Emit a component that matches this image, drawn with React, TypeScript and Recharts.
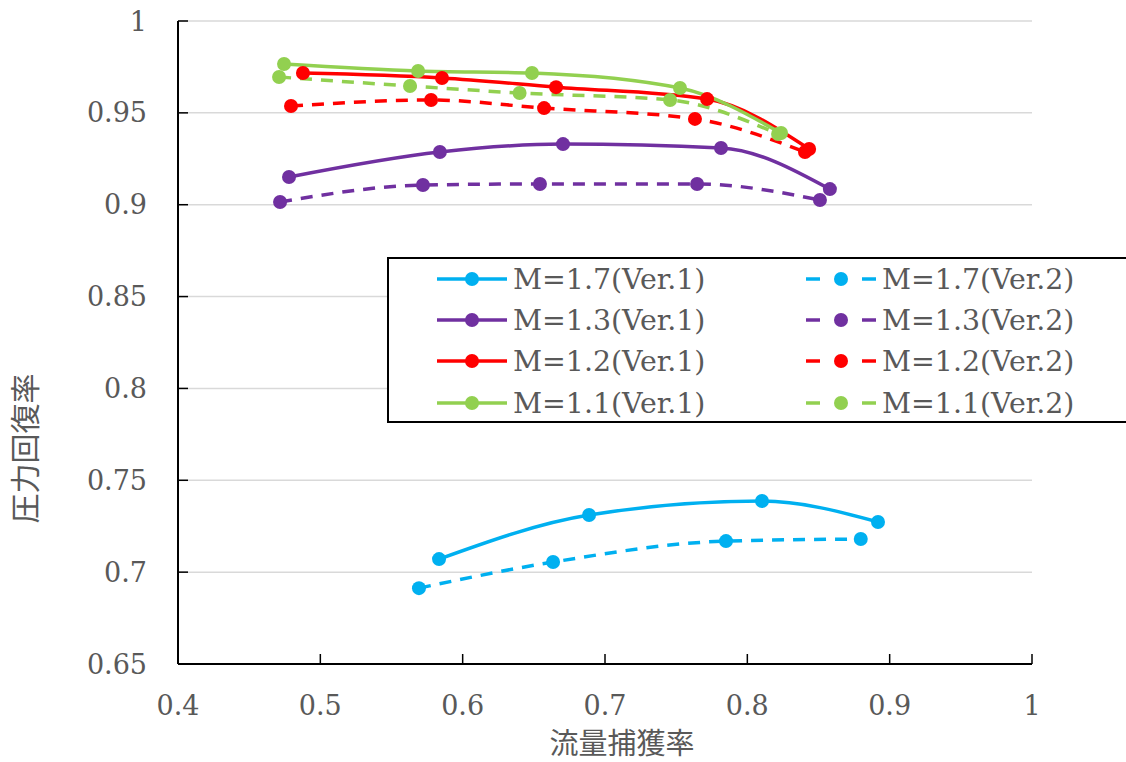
import React from 'react';
import { LineChart, Line, XAxis, YAxis, CartesianGrid, Legend, Label } from 'recharts';

const xTicks = [0.4, 0.5, 0.6, 0.7, 0.8, 0.9, 1];
const yTicks = [0.65, 0.7, 0.75, 0.8, 0.85, 0.9, 0.95, 1];

const m17v1 = [
  { x: 0.5834, y: 0.7071 },
  { x: 0.6888, y: 0.7311 },
  { x: 0.8103, y: 0.7387 },
  { x: 0.8918, y: 0.7273 },
];
const m17v2 = [
  { x: 0.5693, y: 0.6913 },
  { x: 0.6635, y: 0.7055 },
  { x: 0.785, y: 0.7169 },
  { x: 0.8797, y: 0.718 },
];
const m13v1 = [
  { x: 0.478, y: 0.9151 },
  { x: 0.584, y: 0.9287 },
  { x: 0.6705, y: 0.933 },
  { x: 0.7815, y: 0.9309 },
  { x: 0.858, y: 0.9085 },
];
const m13v2 = [
  { x: 0.4717, y: 0.9015 },
  { x: 0.5721, y: 0.9107 },
  { x: 0.6543, y: 0.9113 },
  { x: 0.7647, y: 0.9113 },
  { x: 0.851, y: 0.9026 },
];
const m12v1 = [
  { x: 0.4878, y: 0.9717 },
  { x: 0.5855, y: 0.969 },
  { x: 0.6656, y: 0.964 },
  { x: 0.7717, y: 0.9575 },
  { x: 0.8434, y: 0.9303 },
];
const m12v2 = [
  { x: 0.4794, y: 0.9537 },
  { x: 0.5778, y: 0.957 },
  { x: 0.6572, y: 0.9526 },
  { x: 0.7632, y: 0.9467 },
  { x: 0.8405, y: 0.9287 },
];
const m11v1 = [
  { x: 0.4745, y: 0.9766 },
  { x: 0.5687, y: 0.9728 },
  { x: 0.6487, y: 0.9717 },
  { x: 0.7527, y: 0.9635 },
  { x: 0.8237, y: 0.939 },
];
const m11v2 = [
  { x: 0.471, y: 0.9695 },
  { x: 0.563, y: 0.9646 },
  { x: 0.64, y: 0.9608 },
  { x: 0.7457, y: 0.957 },
  { x: 0.8216, y: 0.9385 },
];

const CYAN = '#00B0F0';
const PURPLE = '#7030A0';
const RED = '#FF0000';
const GREEN = '#92D050';

const series = [
  { name: 'M=1.7(Ver.1)', data: m17v1, color: CYAN, dashed: false },
  { name: 'M=1.7(Ver.2)', data: m17v2, color: CYAN, dashed: true },
  { name: 'M=1.3(Ver.1)', data: m13v1, color: PURPLE, dashed: false },
  { name: 'M=1.3(Ver.2)', data: m13v2, color: PURPLE, dashed: true },
  { name: 'M=1.2(Ver.1)', data: m12v1, color: RED, dashed: false },
  { name: 'M=1.2(Ver.2)', data: m12v2, color: RED, dashed: true },
  { name: 'M=1.1(Ver.1)', data: m11v1, color: GREEN, dashed: false },
  { name: 'M=1.1(Ver.2)', data: m11v2, color: GREEN, dashed: true },
];

const TEXT = '#595959';
const SERIF = '"DejaVu Serif", serif';
const CJK = '"Noto Sans CJK JP", sans-serif';

const LEG_W = 739;
const LEG_H = 166;

function LegendBox() {
  const rowY = [22, 63, 104, 146];
  return (
    <svg width={LEG_W} height={LEG_H} style={{ display: 'block' }}>
      <rect x={0} y={0} width={LEG_W} height={LEG_H} fill="#fff" />
      <path d={`M${LEG_W} 1 H1 V${LEG_H - 1} H${LEG_W}`} fill="none" stroke="#000" strokeWidth={2} />
      {series.map((s, i) => {
        const row = Math.floor(i / 2);
        const col = i % 2;
        const y = rowY[row];
        const x0 = col === 0 ? 50 : 419;
        const x1 = x0 + 70;
        const cx = x0 + 35;
        return (
          <g key={s.name}>
            {s.dashed ? (
              <g stroke={s.color} strokeWidth={3.5}>
                <line x1={x0} y1={y} x2={x0 + 14} y2={y} />
                <line x1={x1 - 14} y1={y} x2={x1} y2={y} />
              </g>
            ) : (
              <line x1={x0} y1={y} x2={x1} y2={y} stroke={s.color} strokeWidth={3.5} />
            )}
            <circle cx={cx} cy={y} r={7} fill={s.color} />
            <text x={x1 + 6} y={y + 10} fill={TEXT} fontFamily={SERIF} fontSize={28.4}>
              {s.name}
            </text>
          </g>
        );
      })}
    </svg>
  );
}

export default function App() {
  return (
    <div style={{ position: 'absolute', left: 0, top: 0, width: 1126, height: 762, background: '#fff' }}>
      <LineChart
        width={1126}
        height={762}
        margin={{ top: 21, right: 94, left: 0, bottom: 0 }}
      >
        <CartesianGrid vertical={false} stroke="#d9d9d9" strokeWidth={1.5} />
        <XAxis
          type="number"
          dataKey="x"
          domain={[0.4, 1]}
          ticks={xTicks}
          interval={0}
          allowDataOverflow
          height={98}
          tickSize={-10}
          tickMargin={42}
          axisLine={{ stroke: '#000', strokeWidth: 2 }}
          tickLine={{ stroke: '#000', strokeWidth: 1.5 }}
          tick={{ fill: TEXT, fontSize: 27, fontFamily: SERIF }}
          tickFormatter={(v: number) => String(v)}
        >
          <Label
            content={(props: any) => {
              const vb = props.viewBox || { x: 178, y: 664, width: 854, height: 98 };
              return (
                <text
                  x={vb.x + vb.width / 2 + 17}
                  y={vb.y + 90}
                  textAnchor="middle"
                  fill={TEXT}
                  fontFamily={CJK}
                  fontSize={29}
                >
                  流量捕獲率
                </text>
              );
            }}
          />
        </XAxis>
        <YAxis
          type="number"
          domain={[0.65, 1]}
          ticks={yTicks}
          interval={0}
          allowDataOverflow
          width={178}
          tickSize={-10}
          tickMargin={41}
          axisLine={{ stroke: '#000', strokeWidth: 2 }}
          tickLine={{ stroke: '#000', strokeWidth: 1.5 }}
          tick={{ fill: TEXT, fontSize: 27, fontFamily: SERIF }}
          tickFormatter={(v: number) => String(v)}
        >
          <Label
            content={(props: any) => {
              const vb = props.viewBox || { x: 0, y: 21, width: 178, height: 643 };
              const cx = vb.x + 36;
              const cy = vb.y + vb.height / 2 + 106;
              return (
                <text
                  x={cx}
                  y={cy}
                  textAnchor="middle"
                  transform={`rotate(-90 ${cx} ${cy})`}
                  fill={TEXT}
                  fontFamily={CJK}
                  fontSize={30}
                >
                  圧力回復率
                </text>
              );
            }}
          />
        </YAxis>
        {series.map((s) => (
          <Line
            key={s.name}
            name={s.name}
            data={s.data}
            dataKey="y"
            type="monotone"
            stroke={s.color}
            strokeWidth={3.5}
            strokeDasharray={s.dashed ? '12 9' : undefined}
            dot={{ r: 7, fill: s.color, stroke: 'none', strokeWidth: 0 }}
            activeDot={false}
            isAnimationActive={false}
            legendType="line"
          />
        ))}
        <Legend
          layout="horizontal"
          verticalAlign="middle"
          align="center"
          content={() => <LegendBox />}
          wrapperStyle={{ position: 'absolute', left: 387, top: 257, width: LEG_W, height: LEG_H }}
        />
      </LineChart>
    </div>
  );
}
